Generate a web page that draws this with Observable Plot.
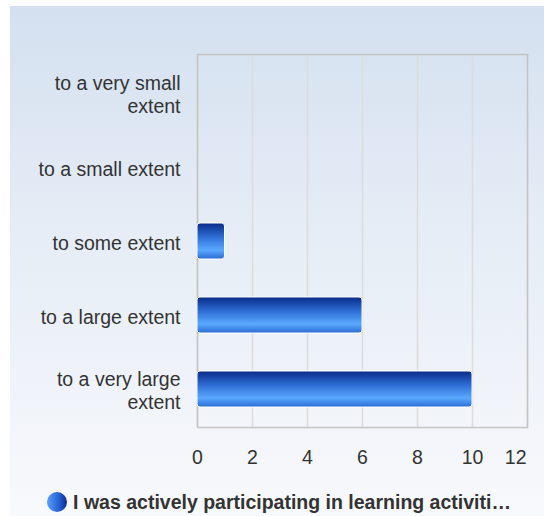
<!DOCTYPE html>
<html>
<head>
<meta charset="utf-8">
<script src="https://cdn.jsdelivr.net/npm/d3@7"></script>
<script src="https://cdn.jsdelivr.net/npm/@observablehq/plot@0.6"></script>
<style>
  html, body { margin: 0; padding: 0; background: #fff; }
  #wrap {
    position: absolute; left: 10px; top: 6px; width: 534px; height: 510px;
    background: linear-gradient(to bottom, #d4e0f0 0%, #e6edf6 45%, #f8f9fc 100%);
    font-family: "Liberation Sans", Arial, sans-serif;
  }
  #legend {
    position: absolute; left: 2px; width: 534px; top: 485px; line-height: 22px; text-align: center;
    font-size: 19.5px; font-weight: bold; color: #333; white-space: nowrap;
  }
  #legend .dot {
    display: inline-block; width: 20px; height: 20px; border-radius: 50%;
    background: linear-gradient(to right, #5aa0ff, #2560d0 60%, #0b2c8c);
    vertical-align: -3px; margin-right: 6px;
  }
</style>
</head>
<body>
<div id="wrap"><div id="legend"><span class="dot"></span>I was actively participating in learning activiti…</div></div>
<script>
const categories = [
  "to a very small\nextent",
  "to a small extent",
  "to some extent",
  "to a large extent",
  "to a very large\nextent"
];
const values = [0, 0, 1, 6, 10];
const xTicks = [0, 2, 4, 6, 8, 10, 12];
const seriesName = "I was actively participating in learning activiti…";

const data = categories.map((c, i) => ({category: c, value: values[i]}));
const lastTick = xTicks[xTicks.length - 1];

const chart = Plot.plot({
  width: 534,
  height: 465,
  marginLeft: 187,
  marginRight: 17,
  marginTop: 48,
  marginBottom: 44,
  style: {background: "transparent", fontFamily: "Liberation Sans, Arial, sans-serif", fontSize: "19.5px", color: "#333"},
  x: {domain: [0, 12], ticks: xTicks},
  y: {domain: categories, paddingInner: 0.52, paddingOuter: 0.26},
  marks: [
    Plot.gridX(xTicks, {stroke: "#dcdcdc", strokeOpacity: 1, strokeWidth: 1.5}),
    Plot.frame({stroke: "#c4c4c4", strokeWidth: 1.5}),
    Plot.barX(data.filter(d => d.value > 0), {x: "value", y: "category", fill: "url(#barGrad)", stroke: "white", strokeWidth: 1, rx: 3}),
    Plot.axisX(xTicks.slice(0, -1), {tickSize: 0, tickPadding: 23, fill: "#333", fontSize: 19.5, label: null}),
    Plot.axisX([lastTick], {tickSize: 0, tickPadding: 23, fill: "#333", fontSize: 19.5, label: null, textAnchor: "end", dx: -1}),
    Plot.axisY({tickSize: 0, tickPadding: 17, fill: "#333", fontSize: 19.5, lineHeight: 1.18, label: null, dy: 1})
  ]
});

const ns = "http://www.w3.org/2000/svg";
const defs = document.createElementNS(ns, "defs");
defs.innerHTML = `<linearGradient id="barGrad" x1="0" y1="0" x2="0" y2="1">
  <stop offset="0" stop-color="#0a2a88"/>
  <stop offset="0.4" stop-color="#2f6fd6"/>
  <stop offset="0.75" stop-color="#5aa8ff"/>
  <stop offset="1" stop-color="#2b6bd4"/>
</linearGradient>`;
chart.insertBefore(defs, chart.firstChild);
chart.style.position = "absolute";
chart.style.left = "0px";
chart.style.top = "0px";
document.getElementById("wrap").appendChild(chart);
</script>
</body>
</html>
